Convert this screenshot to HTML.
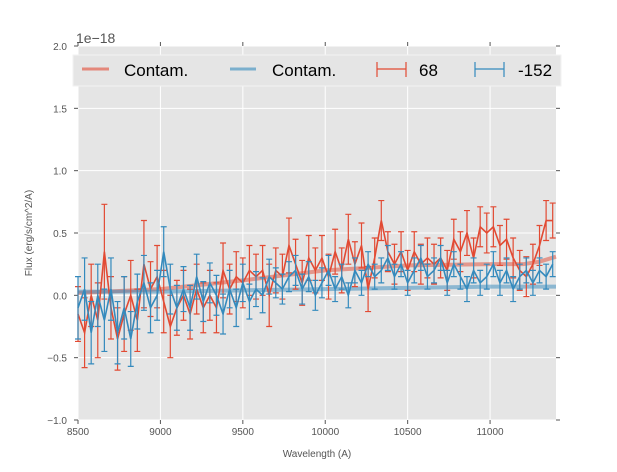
<!DOCTYPE html>
<html><head><meta charset="utf-8"><style>
html,body{margin:0;padding:0;background:#fff;}
svg text{font-family:"Liberation Sans",sans-serif;}
</style></head><body>
<svg id="chart" width="617" height="467" xmlns="http://www.w3.org/2000/svg">
<rect x="78" y="46" width="478" height="374" fill="#e5e5e5"/>
<g id="grid"></g><g id="ticks"></g><g id="series"></g>
<text transform="translate(32,233) rotate(-90)" text-anchor="middle" font-size="10" fill="#555">Flux (erg/s/cm^2/A)</text>
<text x="317" y="457" text-anchor="middle" font-size="10" fill="#555">Wavelength (A)</text>
<text x="76" y="43" font-size="14" fill="#555">1e−18</text>
<g>
<rect x="73" y="55" width="488" height="31" fill="#e5e5e5" stroke="#f2f2f2" stroke-width="1"/>
<line x1="82" y1="69" x2="109" y2="69" stroke="#E24A33" stroke-opacity="0.6" stroke-width="3"/>
<text x="124" y="76" font-size="17">Contam.</text>
<line x1="230" y1="69" x2="256" y2="69" stroke="#348ABD" stroke-opacity="0.6" stroke-width="3"/>
<text x="272" y="76" font-size="17">Contam.</text>
<path d="M377,69H406M377,62V77M406,62V77" stroke="#E24A33" fill="none" stroke-width="1.2"/>
<text x="419" y="76" font-size="17">68</text>
<path d="M475,69H504M475,62V77M504,62V77" stroke="#348ABD" fill="none" stroke-width="1.2"/>
<text x="518" y="76" font-size="17">-152</text>
</g>
</svg>
<script>
const wave=[8500,8540,8580,8620,8660,8700,8740,8780,8820,8860,8900,8940,8980,9020,9060,9100,9140,9180,9220,9260,9300,9340,9380,9420,9460,9500,9540,9580,9620,9660,9700,9740,9780,9820,9860,9900,9940,9980,10020,10060,10100,10140,10180,10220,10260,10300,10340,10380,10420,10460,10500,10540,10580,10620,10660,10700,10740,10780,10820,10860,10900,10940,10980,11020,11060,11100,11140,11180,11220,11260,11300,11340,11380];
const redFlux=[-0.15,-0.3,0.0,-0.2,0.35,-0.1,-0.35,-0.15,0.0,-0.2,0.25,0.05,0.15,-0.05,-0.25,-0.1,0.0,-0.15,0.05,-0.1,0.0,-0.1,0.2,0.05,0.15,0.1,0.2,0.15,0.2,0.0,0.2,0.15,0.4,0.25,0.1,0.3,0.2,0.3,0.15,0.35,0.2,0.45,0.25,0.4,0.05,0.3,0.6,0.35,0.25,0.35,0.2,0.35,0.25,0.3,0.25,0.3,0.2,0.45,0.35,0.5,0.3,0.55,0.5,0.55,0.4,0.45,0.3,0.2,0.15,0.25,0.4,0.6,0.6];
const redErr=[0.22,0.28,0.25,0.3,0.38,0.25,0.25,0.3,0.28,0.25,0.35,0.22,0.25,0.25,0.25,0.22,0.2,0.2,0.2,0.2,0.2,0.2,0.22,0.2,0.2,0.2,0.2,0.18,0.2,0.25,0.18,0.18,0.22,0.2,0.18,0.18,0.18,0.18,0.18,0.18,0.18,0.2,0.18,0.18,0.18,0.16,0.16,0.16,0.16,0.16,0.16,0.16,0.16,0.16,0.16,0.16,0.16,0.16,0.16,0.18,0.16,0.16,0.16,0.16,0.16,0.16,0.16,0.16,0.16,0.16,0.16,0.16,0.14];
const blueFlux=[-0.1,0.05,-0.3,0.0,-0.2,0.05,-0.3,-0.1,-0.35,-0.05,0.1,-0.1,0.0,0.35,0.05,-0.1,0.05,-0.1,0.15,-0.05,0.1,0.0,-0.15,0.05,-0.1,0.1,-0.05,0.05,0.0,0.15,0.1,0.05,0.15,0.2,0.05,0.15,0.0,0.1,0.2,0.05,0.15,0.0,0.2,0.1,0.25,0.15,0.2,0.3,0.15,0.25,0.1,0.2,0.3,0.15,0.2,0.3,0.1,0.25,0.15,0.05,0.2,0.1,0.15,0.25,0.1,0.2,0.05,0.15,0.2,0.1,0.2,0.15,0.25];
const blueErr=[0.25,0.25,0.25,0.25,0.25,0.25,0.25,0.25,0.22,0.22,0.22,0.2,0.2,0.2,0.2,0.18,0.18,0.18,0.18,0.16,0.16,0.16,0.16,0.15,0.15,0.15,0.14,0.14,0.14,0.14,0.12,0.12,0.12,0.12,0.12,0.12,0.12,0.12,0.12,0.1,0.1,0.1,0.1,0.1,0.1,0.1,0.1,0.1,0.1,0.1,0.1,0.1,0.1,0.1,0.1,0.1,0.1,0.1,0.1,0.1,0.1,0.1,0.1,0.1,0.1,0.1,0.1,0.1,0.1,0.1,0.1,0.1,0.1];
const contamWave=[8500,9000,9500,10000,10500,11000,11200,11300,11400];
const redContam=[0.02,0.05,0.12,0.2,0.24,0.25,0.25,0.27,0.31];
const blueContam=[0.03,0.03,0.04,0.05,0.06,0.07,0.07,0.07,0.07];
const xTicks=[8500,9000,9500,10000,10500,11000];
const yTicks=[-1.0,-0.5,0.0,0.5,1.0,1.5,2.0];
const yTickLabels=["−1.0","−0.5","0.0","0.5","1.0","1.5","2.0"];

const X0=78,X1=556,Y0=46,Y1=420,xmin=8500,xmax=11400,ymin=-1,ymax=2;
function xs(v){return X0+(v-xmin)/(xmax-xmin)*(X1-X0);}
function ys(v){return Y1-(v-ymin)/(ymax-ymin)*(Y1-Y0);}
const NS="http://www.w3.org/2000/svg";
function mk(t,a,p){const e=document.createElementNS(NS,t);for(const k in a)e.setAttribute(k,a[k]);p.appendChild(e);return e;}
const grid=document.getElementById('grid'),ticks=document.getElementById('ticks'),ser=document.getElementById('series');
xTicks.forEach(t=>{const x=xs(t);
 const g=mk('line',{x1:x,y1:Y0,x2:x,y2:Y1,stroke:'#fff','stroke-width':1},grid);
 
 
 mk('line',{x1:x,y1:Y0-4,x2:x,y2:Y0,stroke:'#555'},ticks);
 mk('line',{x1:x,y1:Y1,x2:x,y2:Y1+4,stroke:'#555'},ticks);
 const l=mk('text',{x:x,y:Y1+15,'text-anchor':'middle','font-size':10,fill:'#555'},ticks);
 l.textContent=t;
 
 
});
yTicks.forEach((t,i)=>{const y=ys(t);
 const g=mk('line',{x1:X0,y1:y,x2:X1,y2:y,stroke:'#fff','stroke-width':1},grid);
 
 
 mk('line',{x1:X0-4,y1:y,x2:X0,y2:y,stroke:'#555'},ticks);
 mk('line',{x1:X1,y1:y,x2:X1+4,y2:y,stroke:'#555'},ticks);
 const l=mk('text',{x:X0-11,y:y+4,'text-anchor':'end','font-size':10,fill:'#555'},ticks);
 l.textContent=yTickLabels[i];
 
 
});
function contam(vals,col,name){
 const d=contamWave.map((w,i)=>(i?'L':'M')+xs(w)+','+ys(vals[i])).join('');
 const p=mk('path',{d:d,stroke:col,'stroke-opacity':0.5,'stroke-width':4,fill:'none'},ser);
 
 
}
function errSeries(vals,err,col,name){
 const g=mk('g',{stroke:col,fill:'none','stroke-width':1.2},ser);
 
 
 let eb='';
 wave.forEach((w,i)=>{const x=xs(w),a=ys(vals[i]+err[i]),b=ys(vals[i]-err[i]);
  eb+='M'+x+','+a+'V'+b+'M'+(x-3)+','+a+'H'+(x+3)+'M'+(x-3)+','+b+'H'+(x+3);});
 mk('path',{d:eb},g);
 const d=wave.map((w,i)=>(i?'L':'M')+xs(w)+','+ys(vals[i])).join('');
 mk('path',{d:d,'stroke-width':1.6},g);
}
contam(redContam,'#E24A33','contam-red-line');
contam(blueContam,'#348ABD','contam-blue-line');
errSeries(redFlux,redErr,'#E24A33','series-68');
errSeries(blueFlux,blueErr,'#348ABD','series-152');
</script>
</body></html>
